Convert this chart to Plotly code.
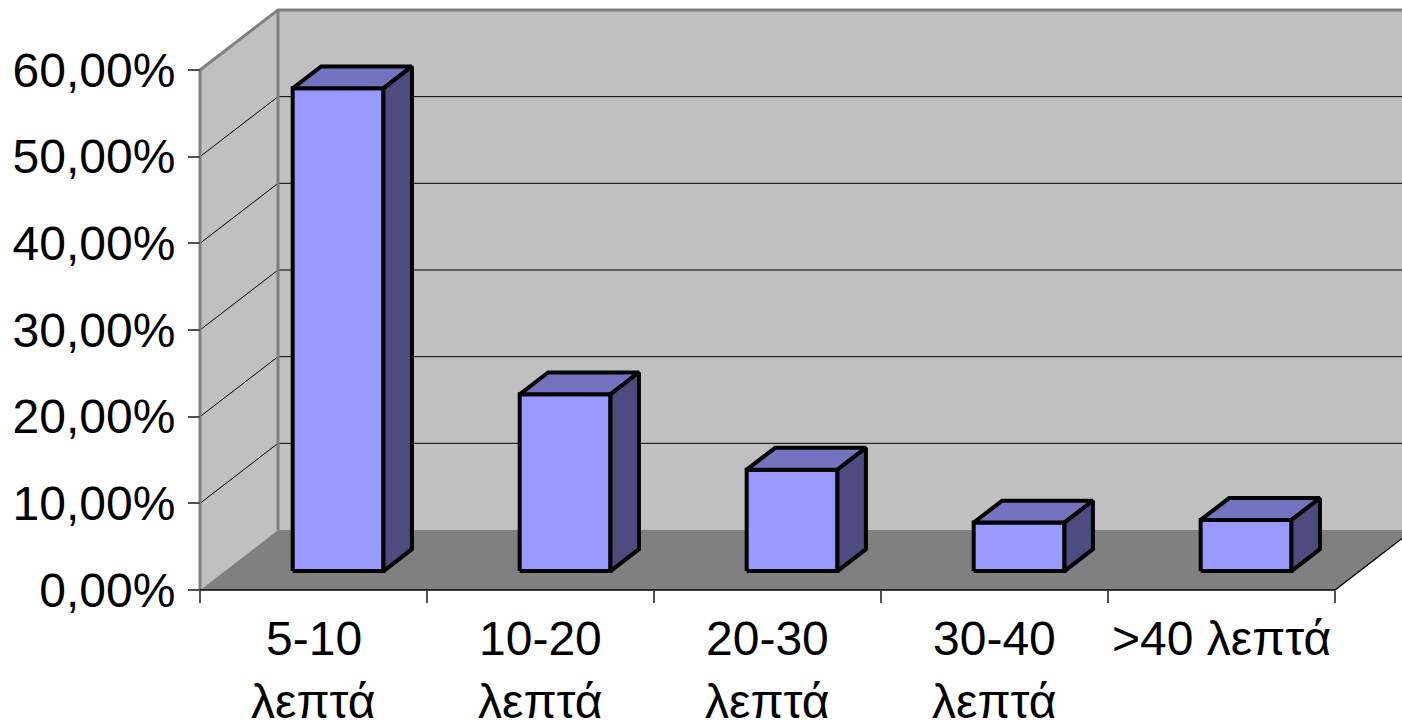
import plotly.graph_objects as go

# Data
label_line1 = ["5-10", "10-20", "20-30", "30-40", ">40 λεπτά"]
label_line2 = ["λεπτά", "λεπτά", "λεπτά", "λεπτά", ""]
shares = [55.7, 20.4, 11.7, 5.6, 5.9]          # percent
y_ticks = [0, 10, 20, 30, 40, 50, 60]
y_tick_text = ["0,00%", "10,00%", "20,00%", "30,00%", "40,00%", "50,00%", "60,00%"]

# Canvas / projection setup (oblique 3D look on a flat cartesian plot)
W, H = 1402, 728
X0_PX, CAT_PX = 200, 227.0      # front-left corner and width of one category
Y0_PX, PCT_PX = 590, 8.667      # front floor line and pixels per percent
DX = 78 / CAT_PX                 # depth offset in category units
DY = 60 / PCT_PX                 # depth offset in percent units
N = len(shares)
Y_MAX = y_ticks[-1]

BAR_HALF = 0.2                   # half bar width (category units)
F0, F1 = 0.315, 0.68             # bar front/back depth fraction

FONT = "Liberation Sans, Arial, sans-serif"
FONT_SIZE = 48
WALL = "#c0c0c0"
FLOOR = "#808080"
EDGE = "#808080"
FRONT = "#9999ff"
TOP = "#7373bf"
SIDE = "#4c4c80"

fig = go.Figure()


def polygon(xs, ys, fill, line_color="rgba(0,0,0,0)", width=0):
    fig.add_trace(go.Scatter(
        x=list(xs) + [xs[0]], y=list(ys) + [ys[0]],
        mode="lines", fill="toself", fillcolor=fill,
        line=dict(color=line_color, width=width),
        hoverinfo="skip", showlegend=False,
    ))


def polyline(xs, ys, color, width):
    fig.add_trace(go.Scatter(
        x=xs, y=ys, mode="lines",
        line=dict(color=color, width=width),
        hoverinfo="skip", showlegend=False,
    ))


# Walls and floor
polygon([DX, N + DX, N + DX, DX], [DY, DY, Y_MAX + DY, Y_MAX + DY], WALL)
polygon([0, DX, DX, 0], [0, DY, Y_MAX + DY, Y_MAX], WALL)
polygon([0, N, N + DX, DX], [0, 0, DY, DY], FLOOR)

# Gridlines on back wall and side wall
for v in y_ticks[1:-1]:
    polyline([0, DX, N + DX], [v, v + DY, v + DY], "black", 1)

# Wall borders
polyline([0, 0, DX, N + DX], [0, Y_MAX, Y_MAX + DY, Y_MAX + DY], EDGE, 3)
polyline([DX, DX], [DY, Y_MAX + DY], EDGE, 3)

# Floor front and right edges
polyline([0, N, N + DX], [0, 0, DY], "black", 1.3)

# Bars: front, top and side faces
for i, v in enumerate(shares):
    xl = i + 0.5 - BAR_HALF
    xr = i + 0.5 + BAR_HALF
    fx, fy = F0 * DX, F0 * DY
    bx, by = F1 * DX, F1 * DY
    polygon([xl + fx, xr + fx, xr + fx, xl + fx], [fy, fy, v + fy, v + fy],
            FRONT, "black", 4)
    polygon([xl + fx, xr + fx, xr + bx, xl + bx], [v + fy, v + fy, v + by, v + by],
            TOP, "black", 4)
    polygon([xr + fx, xr + bx, xr + bx, xr + fx], [fy, by, v + by, v + fy],
            SIDE, "black", 4)

# Category labels
for i, (l1, l2) in enumerate(zip(label_line1, label_line2)):
    fig.add_annotation(x=i + 0.5, y=(Y0_PX - 638) / PCT_PX, text=l1,
                       showarrow=False, xanchor="center", yanchor="middle",
                       font=dict(family=FONT, size=FONT_SIZE, color="black"))
    if l2:
        fig.add_annotation(x=i + 0.5, y=(Y0_PX - 701) / PCT_PX, text=l2,
                           showarrow=False, xanchor="center", yanchor="middle",
                           font=dict(family=FONT, size=FONT_SIZE, color="black"))

fig.update_layout(
    width=W, height=H,
    margin=dict(l=0, r=0, t=0, b=0),
    paper_bgcolor="white", plot_bgcolor="white",
    showlegend=False,
    xaxis=dict(
        range=[-X0_PX / CAT_PX, (W - X0_PX) / CAT_PX],
        anchor="free", position=(H - Y0_PX) / H,
        tickmode="array", tickvals=list(range(N + 1)),
        ticks="outside", ticklen=12, tickwidth=1.5, tickcolor="#505050",
        showticklabels=False, showgrid=False, zeroline=False, showline=False,
        fixedrange=True,
    ),
    yaxis=dict(
        range=[-(H - Y0_PX) / PCT_PX, Y0_PX / PCT_PX],
        anchor="free", position=X0_PX / W,
        tickmode="array", tickvals=y_ticks, ticktext=y_tick_text,
        ticks="outside", ticklen=12, tickwidth=1.5, tickcolor="#505050",
        ticklabelstandoff=3,
        tickfont=dict(family=FONT, size=FONT_SIZE, color="black"),
        showgrid=False, zeroline=False, showline=False,
        fixedrange=True,
    ),
)

fig.write_html("out.html")
